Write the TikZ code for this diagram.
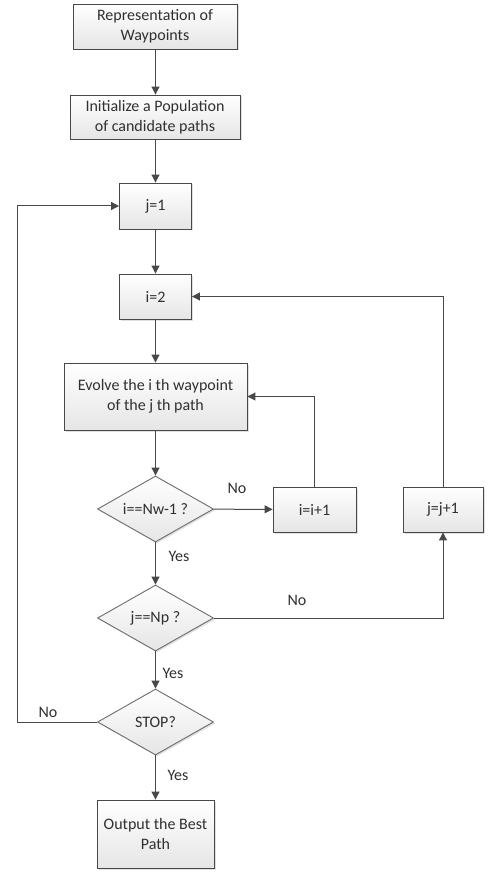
\documentclass[tikz,border=0pt]{standalone}
\usepackage{fontspec}
\setmainfont{Carlito}
\usetikzlibrary{shapes.geometric,arrows.meta,shadows}
\definecolor{linegray}{HTML}{484848}
\definecolor{textgray}{HTML}{303030}
\tikzset{
  block/.style={rectangle,draw=linegray,line width=0.9pt,top color=white,bottom color=gray!20,
    drop shadow={shadow xshift=1.5pt,shadow yshift=-1.5pt,opacity=0.25},
    inner sep=0pt,align=center,text=textgray,font=\fontsize{16}{19.5}\selectfont},
  decision/.style={diamond,draw=linegray!80,line width=0.9pt,top color=white,bottom color=gray!20,
    drop shadow={shadow xshift=1.5pt,shadow yshift=-1.5pt,opacity=0.25},
    inner sep=0pt,aspect=1.76,minimum width=116pt,minimum height=66pt,
    text=textgray,font=\fontsize{16}{19.5}\selectfont},
  flow/.style={draw=linegray,line width=1pt,-{Triangle[length=8pt,width=8pt]}},
  lbl/.style={text=textgray,font=\fontsize{16}{19.5}\selectfont,inner sep=0pt}
}
\begin{document}
\begin{tikzpicture}[x=1pt,y=-1pt]
\useasboundingbox (0,0) rectangle (487,874);
\node[block,minimum width=164pt,minimum height=45pt] (rep) at (155,26.5) {Representation of\\Waypoints};
\node[block,minimum width=170pt,minimum height=44pt] (init) at (155,117) {Initialize a Population\\of candidate paths};
\node[block,minimum width=72pt,minimum height=46pt] (j1) at (155.5,206) {j=1};
\node[block,minimum width=72pt,minimum height=45pt] (i2) at (155.5,296.5) {i=2};
\node[block,minimum width=183pt,minimum height=67pt] (ev) at (155.5,396.5) {Evolve the i th waypoint\\of the j th path};
\node[decision] (d1) at (155.5,509) {i==Nw-1 ?};
\node[block,minimum width=83pt,minimum height=45pt] (ii) at (314.5,509.5) {i=i+1};
\node[block,minimum width=80pt,minimum height=45pt] (jj) at (443,509.5) {j=j+1};
\node[decision] (d2) at (155.5,618) {j==Np ?};
\node[decision] (d3) at (155.5,722) {STOP?};
\node[block,minimum width=117pt,minimum height=68pt] (out) at (155.5,834) {Output the Best\\Path};
\coordinate (lp) at (17,722);
\draw[flow] (rep.south -| j1.north) -- (init.north -| j1.north);
\draw[flow] (init.south -| j1.north) -- (j1.north);
\draw[flow] (j1) -- (i2);
\draw[flow] (i2) -- (ev);
\draw[flow] (ev) -- (d1);
\draw[flow] (d1) -- (ii);
\draw[flow] (ii.north) |- (ev.east);
\draw[flow] (d1) -- (d2);
\draw[flow] (d2.east) -| (jj.south);
\draw[flow] (jj.north) |- (i2.east);
\draw[flow] (d2) -- (d3);
\draw[flow] (d3.west) -- (lp) |- (j1.west);
\draw[flow] (d3) -- (out);
\node[lbl] (no1) at (237,488) {No};
\node[lbl] (yes1) at (179,556) {Yes};
\node[lbl] (no2) at (297,600) {No};
\node[lbl] (yes2) at (173,673) {Yes};
\node[lbl] (no3) at (48,712) {No};
\node[lbl] (yes3) at (178,775) {Yes};
\end{tikzpicture}
\end{document}
